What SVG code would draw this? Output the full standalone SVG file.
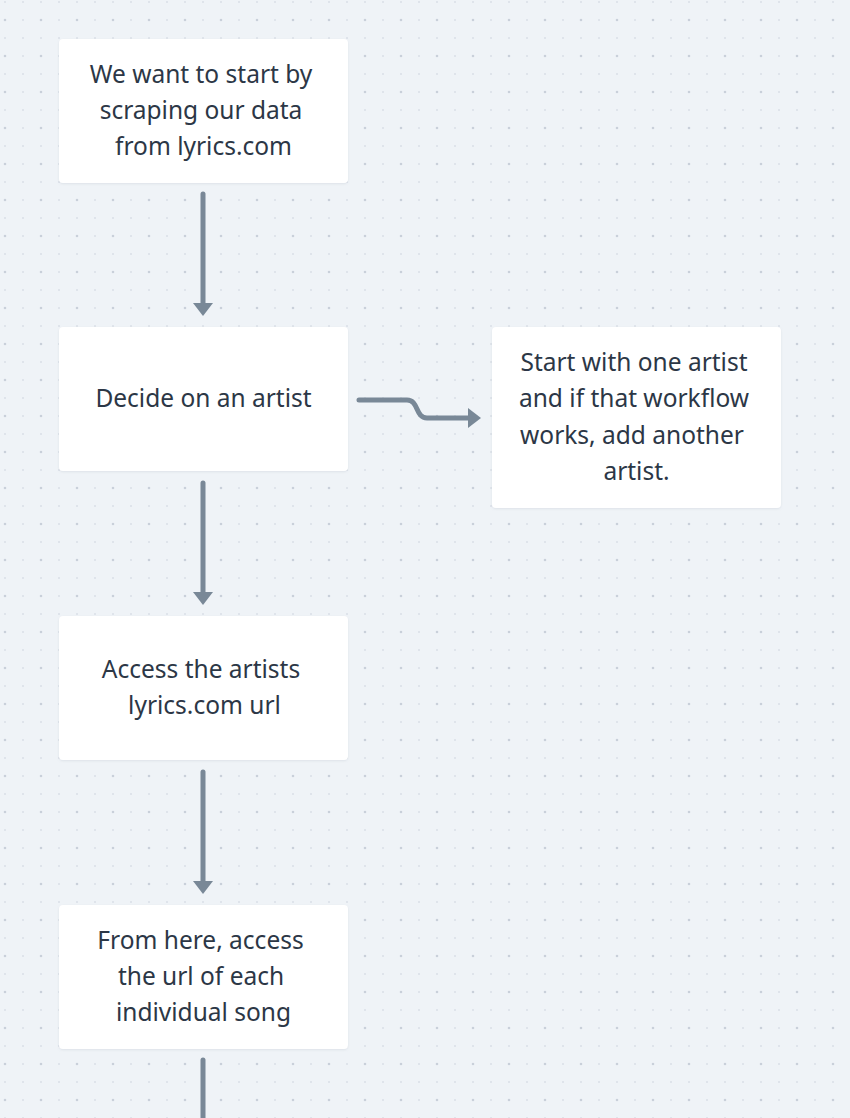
<svg xmlns="http://www.w3.org/2000/svg" width="850" height="1118" viewBox="0 0 850 1118">
<style>
.node rect{fill:#ffffff;filter:url(#sh)}
.node text{font-family:"Noto Sans","DejaVu Sans",sans-serif;font-size:24.5px;fill:#2c3746;text-anchor:middle}
.conn{fill:none;stroke:#798897;stroke-width:5;stroke-linecap:round}
.head{fill:#798897}
</style>
<defs>
<pattern id="dots" x="5" y="20" width="36" height="36" patternUnits="userSpaceOnUse">
<circle cx="0" cy="0" r="1.3" fill="#c9d0da"/>
<circle cx="36" cy="0" r="1.3" fill="#c9d0da"/>
<circle cx="0" cy="36" r="1.3" fill="#c9d0da"/>
<circle cx="36" cy="36" r="1.3" fill="#c9d0da"/>
<circle cx="18" cy="0" r="0.8" fill="#cbd2db"/>
<circle cx="0" cy="18" r="0.8" fill="#cbd2db"/>
<circle cx="18" cy="18" r="0.8" fill="#cbd2db"/>
<circle cx="36" cy="18" r="0.8" fill="#cbd2db"/>
<circle cx="18" cy="36" r="0.8" fill="#cbd2db"/>
</pattern>
<filter id="sh" x="-5%" y="-5%" width="110%" height="115%">
<feDropShadow dx="0" dy="1" stdDeviation="1" flood-color="#8a98a8" flood-opacity="0.18"/>
</filter>
</defs>
<rect width="850" height="1118" fill="#eff3f7"/>
<rect width="850" height="1118" fill="url(#dots)"/>

<g id="connectors">
<path class="conn" d="M203,194 V304"/>
<polygon class="head" points="193,303 213,303 203,316"/>
<path class="conn" d="M203,483 V593"/>
<polygon class="head" points="193,592 213,592 203,605"/>
<path class="conn" d="M203,772 V882"/>
<polygon class="head" points="193,881 213,881 203,894"/>
<path class="conn" d="M203,1060 V1125"/>
<path class="conn" d="M359,400 H407 C419,400 415,418 427,418 H469"/>
<polygon class="head" points="468,408 468,428 481,418"/>
</g>

<g id="node1" class="node">
<rect x="59" y="39" width="289" height="144" rx="4"/>
<text x="201" y="83">We want to start by</text>
<text x="201" y="119">scraping our data</text>
<text x="203.5" y="155">from lyrics.com</text>
</g>
<g id="node2" class="node">
<rect x="59" y="327" width="289" height="144" rx="4"/>
<text x="203.5" y="407">Decide on an artist</text>
</g>
<g id="node3" class="node">
<rect x="492" y="327" width="289" height="181" rx="4"/>
<text x="634" y="371">Start with one artist</text>
<text x="634" y="407">and if that workflow</text>
<text x="632" y="444">works, add another</text>
<text x="636.5" y="480">artist.</text>
</g>
<g id="node4" class="node">
<rect x="59" y="616" width="289" height="144" rx="4"/>
<text x="201" y="678">Access the artists</text>
<text x="204.5" y="714">lyrics.com url</text>
</g>
<g id="node5" class="node">
<rect x="59" y="905" width="289" height="144" rx="4"/>
<text x="200.5" y="949">From here, access</text>
<text x="201" y="985">the url of each</text>
<text x="203.5" y="1021">individual song</text>
</g>
</svg>
